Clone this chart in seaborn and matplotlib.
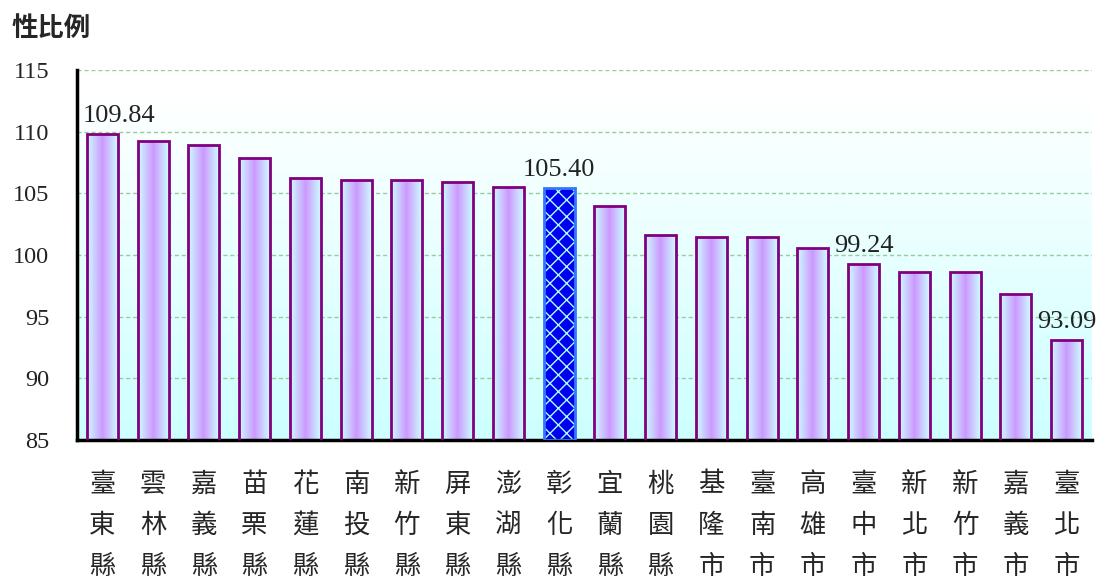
import numpy as np
import pandas as pd
import matplotlib
matplotlib.use("Agg")
import matplotlib.pyplot as plt
import seaborn as sns
from matplotlib.colors import LinearSegmentedColormap
from matplotlib.patches import Rectangle

# 縣市別性比例
regions = ["臺東縣", "雲林縣", "嘉義縣", "苗栗縣", "花蓮縣", "南投縣", "新竹縣",
           "屏東縣", "澎湖縣", "彰化縣", "宜蘭縣", "桃園縣", "基隆市", "臺南市",
           "高雄市", "臺中市", "新北市", "新竹市", "嘉義市", "臺北市"]
ratios = [109.84, 109.27, 108.95, 107.85, 106.25, 106.05, 106.05,
          105.90, 105.55, 105.40, 103.95, 101.65, 101.50, 101.50,
          100.55, 99.24, 98.60, 98.60, 96.80, 93.09]
labeled = ["臺東縣", "彰化縣", "臺中市", "臺北市"]
highlight = "彰化縣"

df = pd.DataFrame({"region": regions, "ratio": ratios})
df["tick"] = df["region"].apply(lambda s: "\n".join(s))

sns.set_style("white")
plt.rcParams["font.family"] = ["Liberation Serif", "Noto Sans CJK TC"]

fig = plt.figure(figsize=(11.02, 5.83), dpi=100)
ax = fig.add_axes([77 / 1102, 1 - 440 / 583, (1092 - 77) / 1102, (440 - 70) / 583])

ymin, ymax = 85, 115

sns.barplot(data=df, x="tick", y="ratio", ax=ax, width=0.61, color="#cc99ff")

# 背景漸層
bg = LinearSegmentedColormap.from_list("bg", ["#ccffff", "#e6ffff", "#ffffff"])
grad_v = np.linspace(0, 1, 256).reshape(-1, 1)
ax.imshow(grad_v, cmap=bg, extent=[-0.5, 19.5, ymin, ymax - 2], origin="lower",
          aspect="auto", zorder=0)

# 長條漸層
bar_cmap = LinearSegmentedColormap.from_list("bar", ["#ccffff", "#cc99ff", "#ccffff"])
grad_h = np.linspace(0, 1, 256).reshape(1, -1)
for patch, reg, val in zip(ax.patches, regions, ratios):
    x0 = patch.get_x()
    w = patch.get_width()
    if reg == highlight:
        patch.set_facecolor("#0000ee")
        patch.set_edgecolor("#aaffff")
        patch.set_hatch("xx")
        patch.set_linewidth(0)
        ax.add_patch(Rectangle((x0, ymin), w, val - ymin, facecolor="none",
                               edgecolor="#3377ff", linewidth=2, zorder=3))
    else:
        patch.set_facecolor("none")
        patch.set_edgecolor("#800080")
        patch.set_linewidth(2)
        patch.set_zorder(3)
        im = ax.imshow(grad_h, cmap=bar_cmap, extent=[x0, x0 + w, ymin, val],
                       aspect="auto", zorder=2)
        im.set_clip_path(patch)

# 數值標註
for i, (reg, val) in enumerate(zip(regions, ratios)):
    if reg in labeled:
        dx = 0.32 if i == 0 else 0
        ax.annotate(f"{val:.2f}", (i + dx, val), xytext=(0, 5), textcoords="offset points",
                    ha="center", va="bottom", fontsize=19, color="#222222",
                    family="Liberation Serif")

ax.set_xlim(-0.5, 19.5)
ax.set_ylim(ymin, ymax)
ax.set_yticks(range(85, 116, 5))
ax.set_xticks(range(len(regions)))
ax.set_xticklabels(df["tick"], family="Noto Sans CJK TC", fontsize=19, linespacing=1.68)
ax.set_xticks(np.arange(-0.5, 20, 1), minor=True)

ax.grid(axis="y", color="#99cc99", linestyle=(0, (3, 2)), linewidth=1)
ax.set_axisbelow(True)
for s in ["top", "right"]:
    ax.spines[s].set_visible(False)
for s in ["left", "bottom"]:
    ax.spines[s].set_linewidth(2.5)
    ax.spines[s].set_color("black")

ax.tick_params(axis="x", which="major", length=0, pad=22)
ax.tick_params(axis="x", which="minor", direction="in", length=8, width=2, color="black")
ax.tick_params(axis="y", direction="in", length=5, width=2, color="black",
               labelsize=17.5, pad=20, labelcolor="#222222")
ax.set_xlabel("")
ax.set_ylabel("")

fig.text(12 / 1102, 1 - 28 / 583, "性比例", family="Noto Sans CJK TC", fontsize=19,
         fontweight="bold", va="center", ha="left")

fig.savefig("out.png", dpi=100)
